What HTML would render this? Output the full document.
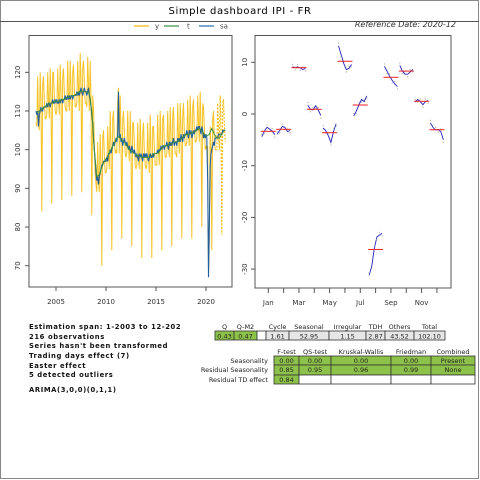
<!DOCTYPE html>
<html><head><meta charset="utf-8"><style>
html,body{margin:0;padding:0;background:#fff}
svg{display:block}
text{font-family:"DejaVu Sans","Liberation Sans",sans-serif}
</style></head><body>
<svg id="root" width="480" height="480" viewBox="0 0 480 480" xmlns="http://www.w3.org/2000/svg">
<rect x="0.5" y="0.5" width="478" height="478" fill="#fff" stroke="#888"/>
<line x1="0" y1="21.5" x2="479" y2="21.5" stroke="#555"/>
<text x="240" y="14" font-size="10" text-anchor="middle" letter-spacing="0.6">Simple dashboard IPI - FR</text>
<text x="456" y="27" font-size="8" font-style="italic" text-anchor="end" fill="#333">Reference Date: 2020-12</text>
<g font-size="7" fill="#444">
<g><line x1="134" y1="26" x2="149" y2="26" stroke="#f5b800" stroke-width="1.2"/><text x="155" y="28.5">y</text></g>
<g><line x1="164" y1="26" x2="179" y2="26" stroke="#3f8f3f" stroke-width="1.2"/><text x="187" y="28.5">t</text></g>
<g><line x1="199" y1="26" x2="214" y2="26" stroke="#2a6db0" stroke-width="1.2"/><text x="220" y="28.5">sa</text></g>
</g>
<g id="main"></g>
<g id="si"></g>
<g font-size="6.8" font-weight="bold" letter-spacing="0.6" fill="#111">
<text x="29" y="329">Estimation span: 1-2003 to 12-202</text>
<text x="29" y="339">216 observations</text>
<text x="29" y="348">Series hasn't been transformed</text>
<text x="29" y="358">Trading days effect (7)</text>
<text x="29" y="368">Easter effect</text>
<text x="29" y="377">5 detected outliers</text>
<text x="29" y="392">ARIMA(3,0,0)(0,1,1)</text>
</g>
<g id="t1" font-size="6.5" fill="#222"></g>
<g id="t2" font-size="6.5" fill="#222"></g>
</svg>
<script>
const NS='http://www.w3.org/2000/svg';
const yearsStart=2003;
const saValues=[
110,109,110,106,109,110,111,110,110,111,111,111,
111,112,111,112,112,111,112,112,113,112,112,113,
112,113,112,112,113,112,113,113,112,113,113,114,
113,113,114,113,114,113,114,114,113,114,114,114,
114,115,114,115,114,115,116,115,114,115,116,115,
115,114,115,116,114,113,111,109,107,103,100,97,
94,92,93,91,93,94,95,96,96,97,97,97,
97,98,97,99,99,100,99,100,101,102,101,102,
103,102,104,115,103,104,102,103,101,102,103,102,
101,102,101,100,101,100,99,101,100,99,100,99,
98,99,98,97,99,98,99,98,97,99,98,99,
98,99,98,97,98,99,98,98,99,98,99,99,
99,99,100,99,100,100,101,100,101,101,100,101,
101,102,101,100,102,101,102,101,102,103,101,102,
102,101,103,102,103,102,104,103,102,104,103,104,
104,105,104,103,105,104,105,103,104,105,104,105,
105,106,105,106,106,105,104,106,105,103,104,103,
104,103,92,67,80,96,99,100,101,102,101,103,
103,103,103,104,104,104,104,104,105,105,105,105];
const yValues=[
107,106,119,107,105,120,113,84,117,119,113,108,
108,109,120,113,108,121,114,86,120,120,114,110,
109,110,121,113,109,122,115,87,119,121,115,111,
110,110,123,114,110,123,116,88,120,122,116,111,
111,112,123,116,110,125,118,89,121,123,118,112,
112,111,124,117,110,123,113,83,114,111,102,94,
91,89,102,92,89,104,97,70,103,105,99,94,
94,95,106,100,95,110,101,74,108,110,103,99,
100,99,113,116,99,114,104,77,108,110,105,99,
98,99,110,101,97,110,101,75,107,107,102,96,
95,96,107,98,95,108,101,72,104,107,100,96,
95,96,107,98,94,109,100,72,106,106,101,96,
96,96,109,100,96,110,103,74,108,109,102,98,
98,99,110,101,98,111,104,75,109,111,103,99,
99,98,112,103,99,112,106,77,109,112,105,101,
101,102,113,104,101,114,107,77,111,113,106,102,
102,103,114,107,102,115,106,80,112,111,106,100,
101,100,101,68,76,106,101,74,108,110,103,100];
const yForecast=[100,100,112,105,100,114,106,78,112,113,107,102];
const trendQuarterly=[
109.5,110,110.5,111, 111.5,112,112,112.5, 112.5,112.5,113,113, 113.5,113.5,114,114,
114.5,115,115,115, 115,114.5,110,100, 93,93.5,95.5,97, 98,99,100.5,101.5,
103,103.5,102.5,102, 101,100,99.5,99, 98.5,98.5,98,98, 98,98,98.5,99,
99,99.5,100.5,101, 101,101.5,101.5,102, 102,102.5,103,103.5, 104,104,104.5,104.5,
105,105.5,105,104, 103.5,104,105.5,104, 103,103,104,105];
const mainYTicks=[70,80,90,100,110,120];
const mainXTicks=[2005,2010,2015,2020];

const months=['Jan','Feb','Mar','Apr','May','Jun','Jul','Aug','Sep','Oct','Nov','Dec'];
const monthMeans=[-3.35,-2.96,8.96,0.91,-3.62,10.2,1.74,-26.2,7.1,8.3,2.46,-3.04];
const siJan=[-4.4,-3.3,-2.6,-2.9,-3.3,-4.0];
const siFeb=[-3.9,-3.2,-2.4,-2.6,-3.4,-3.2];
const siMar=[9.1,9.0,9.1,8.9,8.6,8.8];
const siApr=[1.7,0.9,0.8,1.6,0.8,-0.3];
const siMay=[-2.7,-3.2,-4.2,-5.5,-3.4,-1.9];
const siJun=[13.2,11.5,9.8,8.6,8.8,9.6];
const siJul=[-0.4,0.6,1.8,2.8,2.4,3.5];
const siAug=[-31.2,-29.5,-26,-23.8,-23.4,-23.1];
const siSep=[9.2,8.3,7.3,6.5,5.8,5.3];
const siOct=[9.4,8.3,7.7,7.7,8.1,8.6];
const siNov=[2.3,2.8,2.4,1.8,2.4,2.6];
const siDec=[-1.7,-2.6,-3.1,-3.0,-3.4,-5.0];
const siYTicks=[-30,-20,-10,0,10];

const varHeaders=['Q','Q-M2','','Cycle','Seasonal','Irregular','TDH','Others','Total'];
const varValues=['0.43','0.47','','1.61','52.95','1.15','2.87','43.52','102.10'];
const testHeaders=['F-test','QS-test','Kruskal-Wallis','Friedman','Combined'];
const testRows=['Seasonality','Residual Seasonality','Residual TD effect'];
const testSeasonality=['0.00','0.00','0.00','0.00','Present'];
const testResidual=['0.85','0.95','0.96','0.99','None'];
const testTD=['0.84','','','',''];

function mk(tag,attrs,parent){const e=document.createElementNS(NS,tag);for(const k in attrs)e.setAttribute(k,attrs[k]);parent.appendChild(e);return e;}

// ---- main chart
const main=document.getElementById('main');
const X0=29,X1=232,Y0=35.5,Y1=287;
const xs=t=>56+(t-2005)*10;
const ys=v=>72.3+(120-v)*3.868;
const frame=mk('rect',{x:X0,y:Y0,width:X1-X0,height:Y1-Y0,fill:'none',stroke:'#555','stroke-width':1},main);


mainYTicks.forEach(v=>{
  const l=mk('line',{x1:X0-4,x2:X0,y1:ys(v),y2:ys(v),stroke:'#555'},main);
  
  
  const t=mk('text',{x:0,y:0,'font-size':7,fill:'#333','text-anchor':'middle',transform:`translate(20,${ys(v)}) rotate(-90)`},main);
  t.textContent=v;
  
  
});
mainXTicks.forEach(v=>{
  const l=mk('line',{x1:xs(v),x2:xs(v),y1:Y1,y2:Y1+4,stroke:'#555'},main);
  
  
  const t=mk('text',{x:xs(v),y:304,'font-size':7,fill:'#333','text-anchor':'middle'},main);
  t.textContent=v;
  
  
});
const tm=i=>yearsStart+i/12;
const pts=(arr,f)=>arr.map((v,i)=>f(i).toFixed(1)+','+ys(v).toFixed(1)).join(' ');
const yl=mk('polyline',{points:pts(yValues,i=>xs(tm(i))),fill:'none',stroke:'#f5b800','stroke-width':1,'stroke-opacity':0.85},main);


const lastIdx=yValues.length-1;
const fcPts=[xs(tm(lastIdx)).toFixed(1)+','+ys(yValues[lastIdx]).toFixed(1)].concat(yForecast.map((v,i)=>xs(tm(lastIdx+1+i)).toFixed(1)+','+ys(v).toFixed(1))).join(' ');
const yf=mk('polyline',{points:fcPts,fill:'none',stroke:'#f5b800','stroke-width':1.1,'stroke-dasharray':'2,1.5'},main);


const sal=mk('polyline',{points:pts(saValues,i=>xs(tm(i))),fill:'none',stroke:'#1f5f9f','stroke-width':1.1},main);


const tl=mk('polyline',{points:pts(trendQuarterly,i=>xs(yearsStart+(i*3+1)/12)),fill:'none',stroke:'#3f8f3f','stroke-width':1},main);



// ---- SI chart
const si=document.getElementById('si');
const SX0=255,SX1=451,SY0=35.5,SY1=288;
const sx=m=>268.3+m*15.33;
const sy=v=>114-v*5.17;
const f2=mk('rect',{x:SX0,y:SY0,width:SX1-SX0,height:SY1-SY0,fill:'none',stroke:'#555'},si);


siYTicks.forEach(v=>{
  const l=mk('line',{x1:SX0-4,x2:SX0,y1:sy(v),y2:sy(v),stroke:'#555'},si);
  
  
  const t=mk('text',{x:0,y:0,'font-size':7,fill:'#333','text-anchor':'middle',transform:`translate(247,${sy(v)}) rotate(-90)`},si);
  t.textContent=v;
  
  
});
months.forEach((m,i)=>{
  const l=mk('line',{x1:sx(i),x2:sx(i),y1:SY1,y2:SY1+5,stroke:'#555'},si);
  
  
  if(i%2===0){
    const t=mk('text',{x:sx(i),y:305,'font-size':7,fill:'#333','text-anchor':'middle'},si);
    t.textContent=m;
    
    
  }
});
const siSeries=[siJan,siFeb,siMar,siApr,siMay,siJun,siJul,siAug,siSep,siOct,siNov,siDec];
siSeries.forEach((arr,mi)=>{
  const c=sx(mi), n=arr.length;
  const p=arr.map((v,k)=>(c-6.5+13*k/(n-1)).toFixed(1)+','+sy(v).toFixed(1)).join(' ');
  const pl=mk('polyline',{points:p,fill:'none',stroke:'#2222bb','stroke-width':0.9},si);
  
  
  arr.forEach((v,k)=>{
    const d=mk('circle',{cx:(c-6.5+13*k/(n-1)).toFixed(1),cy:(sy(v)+((k%2)?2.5:-2.5)).toFixed(1),r:0.7,fill:'#bbb'},si);
    
    
  });
  const ml=mk('line',{x1:c-7.5,x2:c+7.5,y1:sy(monthMeans[mi]),y2:sy(monthMeans[mi]),stroke:'#ee2222','stroke-width':1},si);
  
  
});

// ---- variance table
const t1=document.getElementById('t1');
const c1=[215,234,257,266,289,329,366,385,414,445];
varHeaders.forEach((h,i)=>{
  const cx=(c1[i]+c1[i+1])/2;
  const t=mk('text',{x:cx,y:329,'text-anchor':'middle'},t1);
  t.textContent=h;
  
  
  const green=i<2, blank=i===2;
  const r=mk('rect',{x:c1[i],y:331,width:c1[i+1]-c1[i],height:9,fill:green?'#8dc24a':(blank?'#fff':'#e6e6e6'),stroke:'#333','stroke-width':0.8},t1);
  
  
  const v=mk('text',{x:cx,y:338.5,'text-anchor':'middle'},t1);
  v.textContent=varValues[i];
  
  
});

// ---- tests table
const t2=document.getElementById('t2');
const c2=[274,299,331,391,431,475];
const rowsY=[356,365,375];
const rowVals=[testSeasonality,testResidual,testTD];
testHeaders.forEach((h,i)=>{
  const t=mk('text',{x:(c2[i]+c2[i+1])/2,y:354,'text-anchor':'middle'},t2);
  t.textContent=h;
  
  
});
testRows.forEach((rname,ri)=>{
  const y=rowsY[ri];
  const lt=mk('text',{x:268,y:y+7,'text-anchor':'end'},t2);
  lt.textContent=rname;
  
  
  rowVals[ri].forEach((v,ci)=>{
    const r=mk('rect',{x:c2[ci],y:y,width:c2[ci+1]-c2[ci],height:ri===1?10:9,fill:v===''?'#fff':'#8dc24a',stroke:'#333','stroke-width':0.8},t2);
    
    
    const tx=mk('text',{x:(c2[ci]+c2[ci+1])/2,y:y+7,'text-anchor':'middle'},t2);
    tx.textContent=v;
    
    
  });
});
</script>
</body></html>
